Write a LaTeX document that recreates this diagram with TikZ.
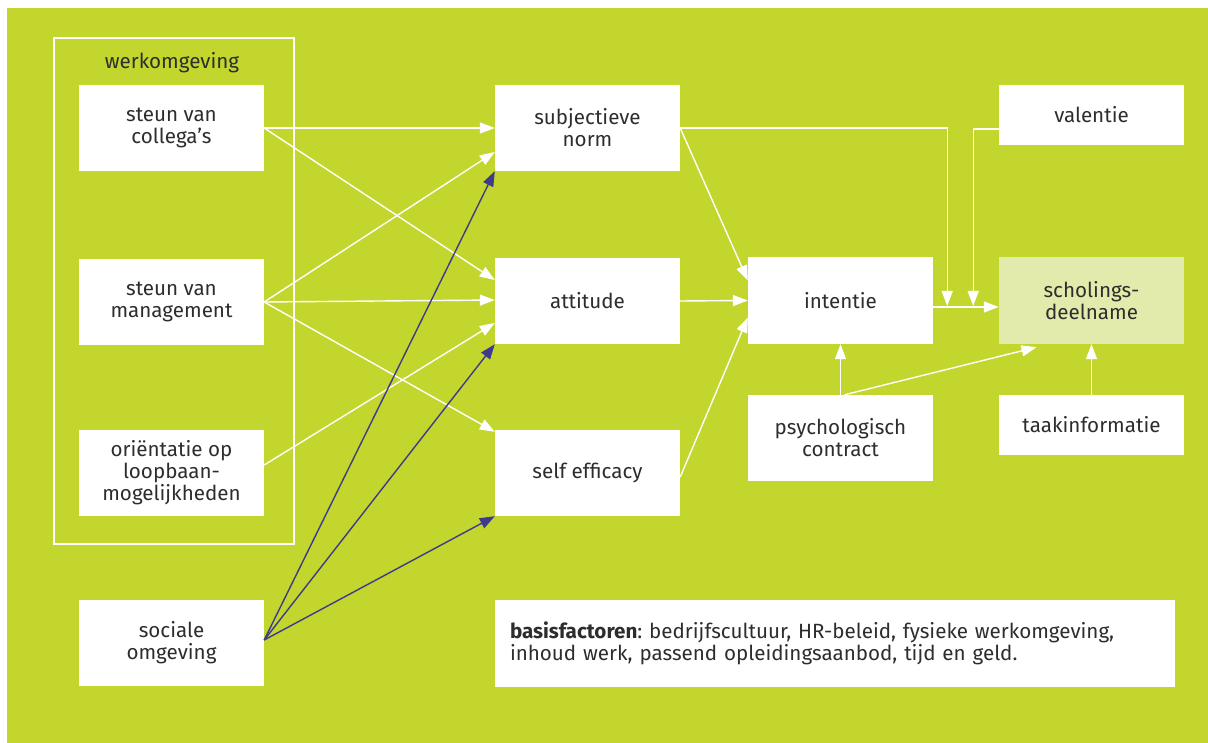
\documentclass[tikz,border=0pt]{standalone}
\usepackage{fontspec}
\setmainfont{Fira Sans}
\usetikzlibrary{arrows.meta,calc}
\definecolor{bggreen}{RGB}{194,214,46}
\definecolor{lightbox}{RGB}{227,235,172}
\definecolor{darkblue}{RGB}{64,58,140}
\definecolor{txt}{RGB}{45,45,45}
\frenchspacing
\begin{document}
\begin{tikzpicture}[x=1pt,y=-1pt,
  box/.style={draw=none,fill=white,minimum width=185pt,minimum height=86pt,inner sep=0pt,
    align=center,text=txt,font=\fontsize{20.6}{22}\selectfont},
  frame/.style={draw=white,line width=1.4pt,minimum width=240pt,minimum height=506pt,inner sep=0pt},
  warr/.style={draw=white,line width=1.4pt,-{Triangle[length=15pt,width=11pt]}},
  barr/.style={draw=darkblue,line width=1.4pt,-{Triangle[length=15pt,width=11pt]}}]
\useasboundingbox (0,0) rectangle (1208,743);
\fill[white] (0,0) rectangle (1208,743);
\fill[bggreen] (7,8) rectangle (1208,743);

\node[frame] (werk) at (174,291) {};
\node[text=txt,font=\fontsize{20.6}{22}\selectfont] (wlabel) at (172,63) {werkomgeving};

\node[box] (col) at (171.5,128) {steun van\\collega’s};
\node[box] (man) at (171.5,302) {steun van\\management};
\node[box] (ori) at (171.5,473) {oriëntatie op\\loopbaan-\\mogelijkheden};
\node[box] (soc) at (171.5,643) {sociale\\omgeving};

\node[box] (sub) at (587.5,128) {subjectieve\\norm};
\node[box] (att) at (587.5,301) {attitude};
\node[box] (sel) at (587.5,473) {self efficacy};

\node[box,minimum height=87pt] (int) at (840.5,300.5) {intentie};
\node[box,minimum height=60pt] (val) at (1091.5,115) {valentie};
\node[box,minimum height=87pt,fill=lightbox] (sch) at (1091.5,300.5) {scholings-\\deelname};
\node[box] (psy) at (840.5,438) {psychologisch\\contract};
\node[box,minimum height=60pt] (taa) at (1091.5,425) {taakinformatie};

\node[box,minimum width=680pt,minimum height=87pt,align=left,text width=650pt] (bas) at (835,643.5)
  {\textbf{basisfactoren}: bedrijfscultuur, HR-beleid, fysieke werkomgeving,\\inhoud werk, passend opleidingsaanbod, tijd en geld.};

% left to middle (white)
\draw[warr] (col.east) -- (sub.west);
\draw[warr] (col.east) -- ([yshift=21]att.west);
\draw[warr] (man.east) -- ([yshift=-24]sub.west);
\draw[warr] (man.east) -- ([yshift=1]att.west);
\draw[warr] (man.east) -- ([yshift=-2]sel.north west);
\draw[warr] ([yshift=8]ori.east) -- ([yshift=-22]att.west);

% sociale omgeving (blue)
\draw[barr] ([yshift=3]soc.east) -- (sub.south west);
\draw[barr] ([yshift=3]soc.east) -- (att.south west);
\draw[barr] ([yshift=3]soc.east) -- (sel.south west);

% middle to intentie
\draw[warr] (sub.east) -- ([yshift=20]int.west);
\draw[warr] (att.east) -- (int.west);
\draw[warr] ([yshift=-4]sel.east) -- ([yshift=-17]int.west);
\draw[warr] (psy.north) -- (int.south);

% to scholingsdeelname
\draw[warr] (sub.east) -| ([xshift=14,yshift=-5.5]int.east);
\draw[warr] ([yshift=-14]val.west) -| ([xshift=40,yshift=-5.5]int.east);
\draw[warr] ([yshift=-6.5]int.east) -- ([yshift=-6.5]sch.west);
\draw[warr] ([xshift=4]psy.north) -- ([xshift=-55,yshift=-3]sch.south);
\draw[warr] (taa.north) -- (sch.south);
\end{tikzpicture}
\end{document}
